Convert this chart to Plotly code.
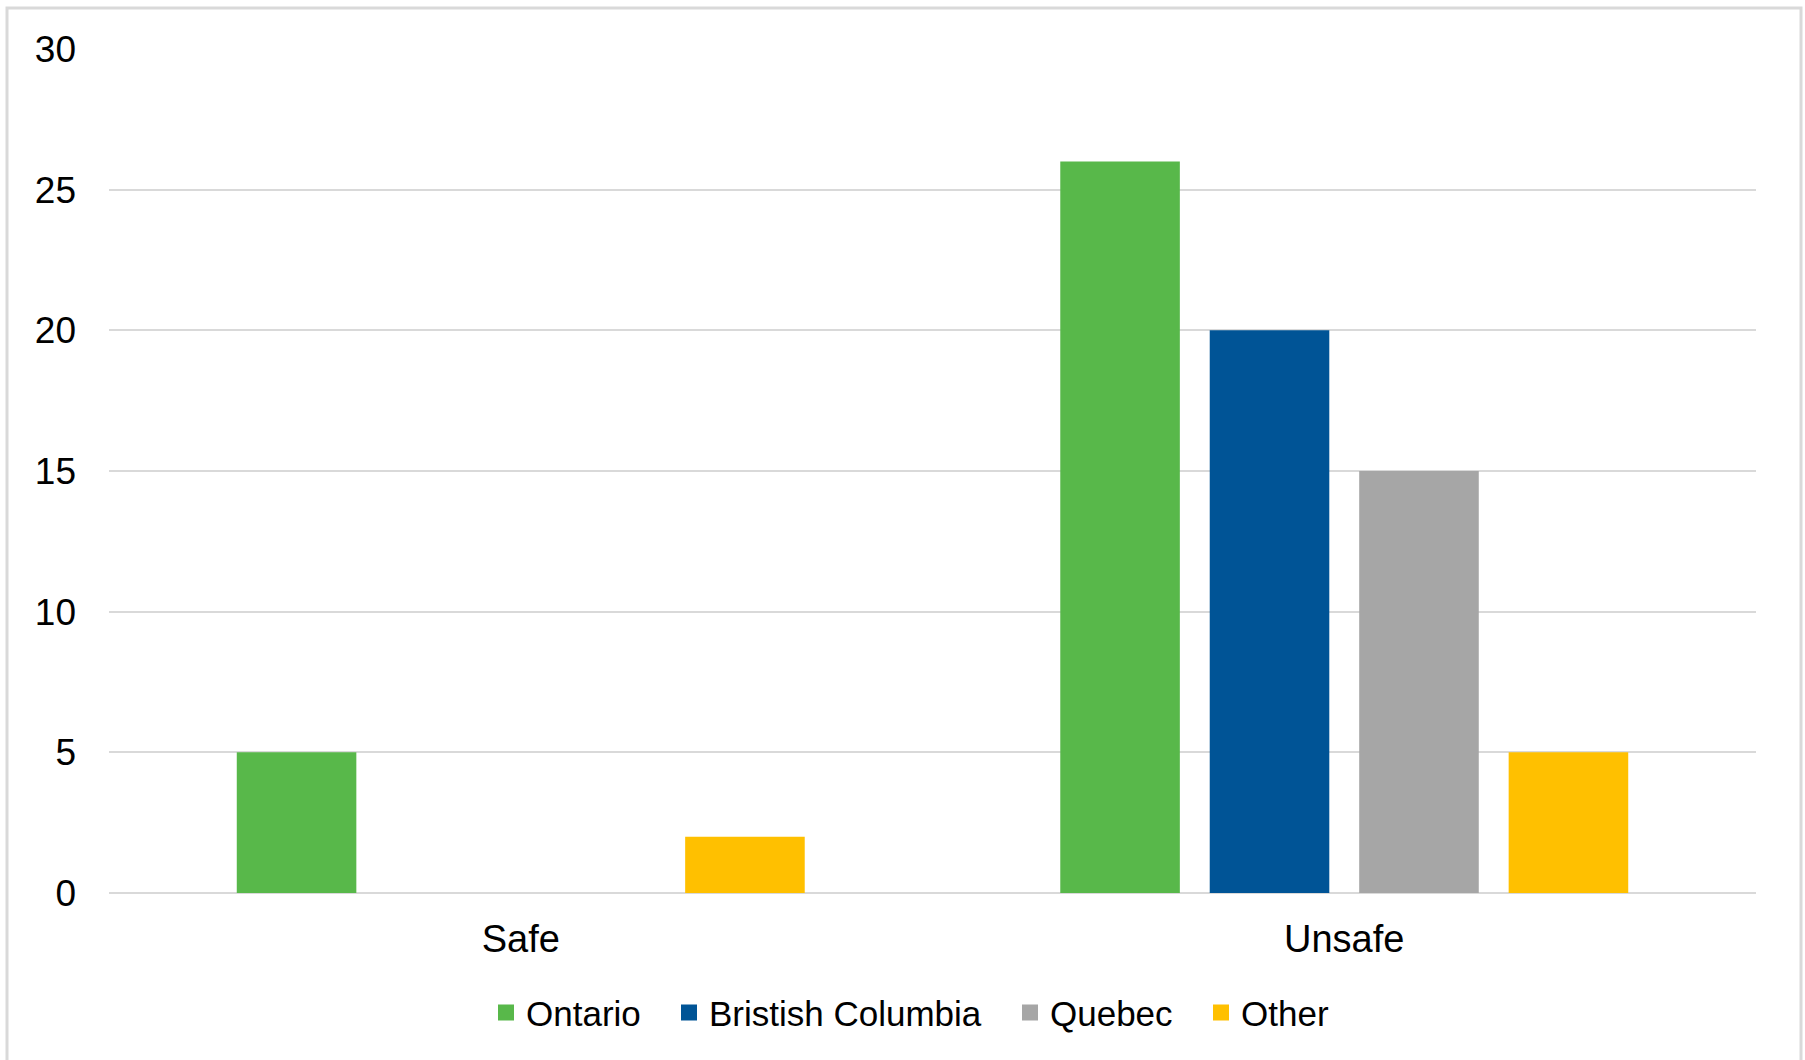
import plotly.graph_objects as go

# Categories and series values
categories = ["Safe", "Unsafe"]
series_names = ["Ontario", "Bristish Columbia", "Quebec", "Other"]
ontario = [5, 26]
british_columbia = [0, 20]
quebec = [0, 15]
other = [2, 5]
y_ticks = [0, 5, 10, 15, 20, 25, 30]

colors = ["#58B84A", "#005496", "#A6A6A6", "#FFC000"]
series_values = [ontario, british_columbia, quebec, other]

FONT = "Liberation Sans, Arial, sans-serif"

W, H = 1805, 1060
L, R, T, B = 109, 49, 49, 167
pw, ph = W - L - R, H - T - B

# left edge (px) of each legend entry
legend_left_px = [486, 669, 1010, 1201]
legend_ids = ["legend", "legend2", "legend3", "legend4"]

fig = go.Figure()

for name, vals, col, lid in zip(series_names, series_values, colors, legend_ids):
    fig.add_trace(go.Bar(
        x=categories, y=vals, name=name,
        marker=dict(color=col, line=dict(width=0)),
        showlegend=False,
    ))
    # square legend swatch
    fig.add_trace(go.Scatter(
        x=[None], y=[None], mode="markers", name=name,
        marker=dict(symbol="square", size=20, color=col),
        showlegend=True, legend=lid,
    ))

legend_common = dict(
    orientation="h", xanchor="left", y=-0.142, yanchor="middle",
    font=dict(size=35, family=FONT, color="#000000"), itemwidth=30,
    bgcolor="rgba(0,0,0,0)",
)
legends = {}
for lid, px in zip(legend_ids, legend_left_px):
    legends[lid] = dict(legend_common, x=(px - L) / pw)

fig.update_layout(
    width=W, height=H,
    margin=dict(l=L, r=R, t=T, b=B),
    paper_bgcolor="white", plot_bgcolor="white",
    barmode="group", bargap=0.274, bargroupgap=0.2,
    font=dict(family=FONT, color="#000000"),
    showlegend=True,
    xaxis=dict(
        showgrid=False, showline=False, zeroline=False,
        tickfont=dict(size=38), ticks="", ticklabelstandoff=20,
    ),
    yaxis=dict(
        range=[0, 30], tickvals=y_ticks,
        showgrid=True, gridcolor="#D9D9D9", gridwidth=2,
        zeroline=True, zerolinecolor="#D9D9D9", zerolinewidth=2,
        showline=False, ticks="", tickfont=dict(size=37),
        ticklabelstandoff=32,
    ),
    shapes=[dict(
        type="rect", xref="paper", yref="paper",
        x0=(7 - L) / pw, x1=(1801 - L) / pw,
        y0=-(1070 - (H - B)) / ph,
        y1=(H - B - 8) / ph,
        line=dict(color="#D9D9D9", width=3), fillcolor="rgba(0,0,0,0)",
        layer="below",
    )],
    **legends,
)

fig.write_html("out.html")
